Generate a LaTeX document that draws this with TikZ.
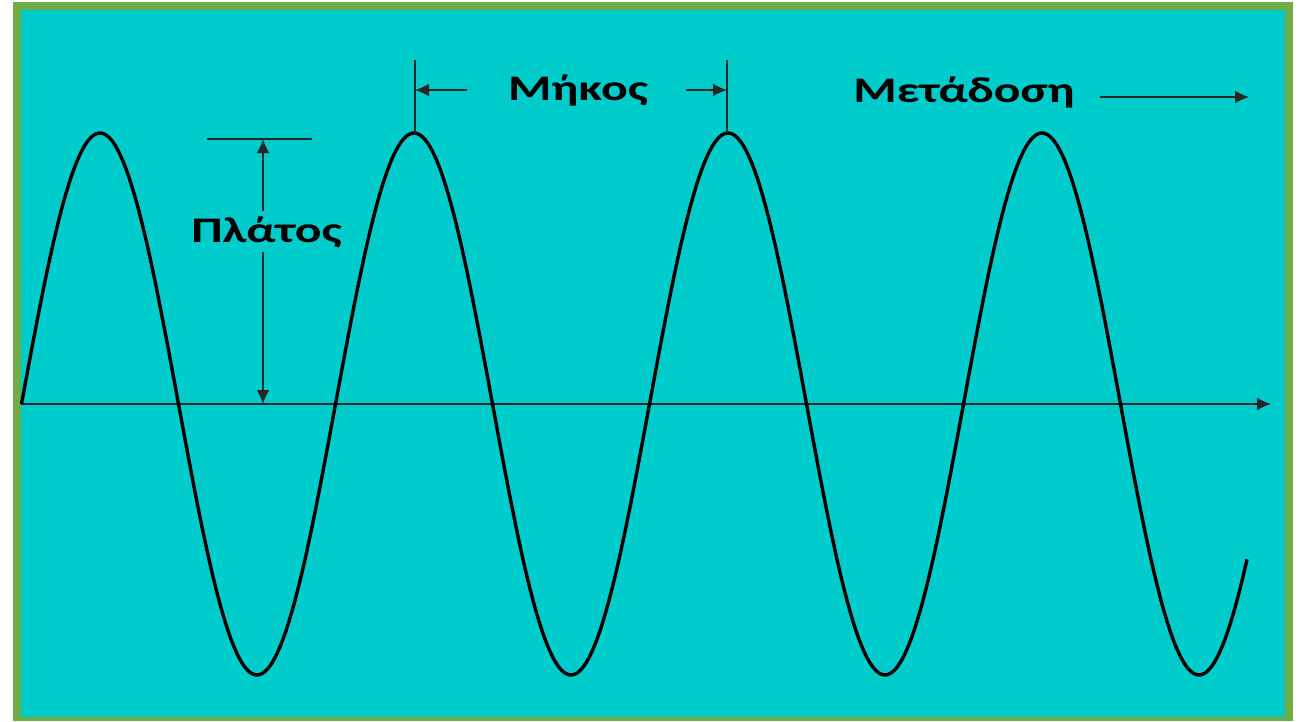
\documentclass[tikz,border=0pt]{standalone}
\usepackage{fontspec}
\usepackage{graphicx}
\setmainfont{Carlito}
\usetikzlibrary{arrows.meta}
\definecolor{bgcyan}{HTML}{00CCCC}
\definecolor{framegreen}{HTML}{70AD47}
\newcommand{\widetxt}[1]{\scalebox{1.38}[1]{#1}}
\tikzset{
  lbl/.style={font=\fontsize{36}{40}\selectfont\bfseries, text=black, inner sep=0pt, anchor=base},
  dim/.style={line width=1.8pt, draw=black!85},
  arr/.style={dim, -{Latex[length=14pt,width=13pt]}},
  wave/.style={line width=3.4pt, black, line join=round}
}
\begin{document}
\begin{tikzpicture}[x=1pt,y=-1pt]
\useasboundingbox (0,0) rectangle (1304,721);
% frame and background
\fill[white] (0,0) rectangle (1304,721);
\fill[framegreen] (13,2) rectangle (1293,721);
\fill[bgcyan] (21,10) rectangle (1285,717);
% axis
\coordinate (axstart) at (21,404);
\coordinate (axend) at (1271,404);
\draw[arr] (axstart) -- (axend);
% wave
\draw[wave] plot[domain=21.5:1247, samples=500, smooth] (\x, {404-271*sin((\x-21.5)/314*360)});
% amplitude
\coordinate (amptl) at (207,139);
\coordinate (amptr) at (312,139);
\draw[dim] (amptl) -- (amptr);
\node[lbl] (platos) at (266.5,242) {\widetxt{Πλάτος}};
\coordinate (ampgt) at (263,211);
\coordinate (ampgb) at (263,252);
\coordinate (amptop) at (263,139);
\coordinate (ampbot) at (263,404);
\draw[arr] (ampgt) -- (amptop);
\draw[arr] (ampgb) -- (ampbot);
% wavelength
\coordinate (wl1t) at (415,60);
\coordinate (wl1b) at (415,133);
\coordinate (wl2t) at (727,60);
\coordinate (wl2b) at (727,133);
\draw[dim] (wl1t) -- (wl1b);
\draw[dim] (wl2t) -- (wl2b);
\node[lbl] (mikos) at (578,100) {\widetxt{Μήκος}};
\coordinate (wla) at (467,90);
\coordinate (wlb) at (686,90);
\coordinate (wl1m) at (415,90);
\coordinate (wl2m) at (727,90);
\draw[arr] (wla) -- (wl1m);
\draw[arr] (wlb) -- (wl2m);
% propagation
\node[lbl] (metadosi) at (964,102) {\widetxt{Μετάδοση}};
\coordinate (pra) at (1100,97);
\coordinate (prb) at (1249,97);
\draw[arr] (pra) -- (prb);
\end{tikzpicture}
\end{document}
